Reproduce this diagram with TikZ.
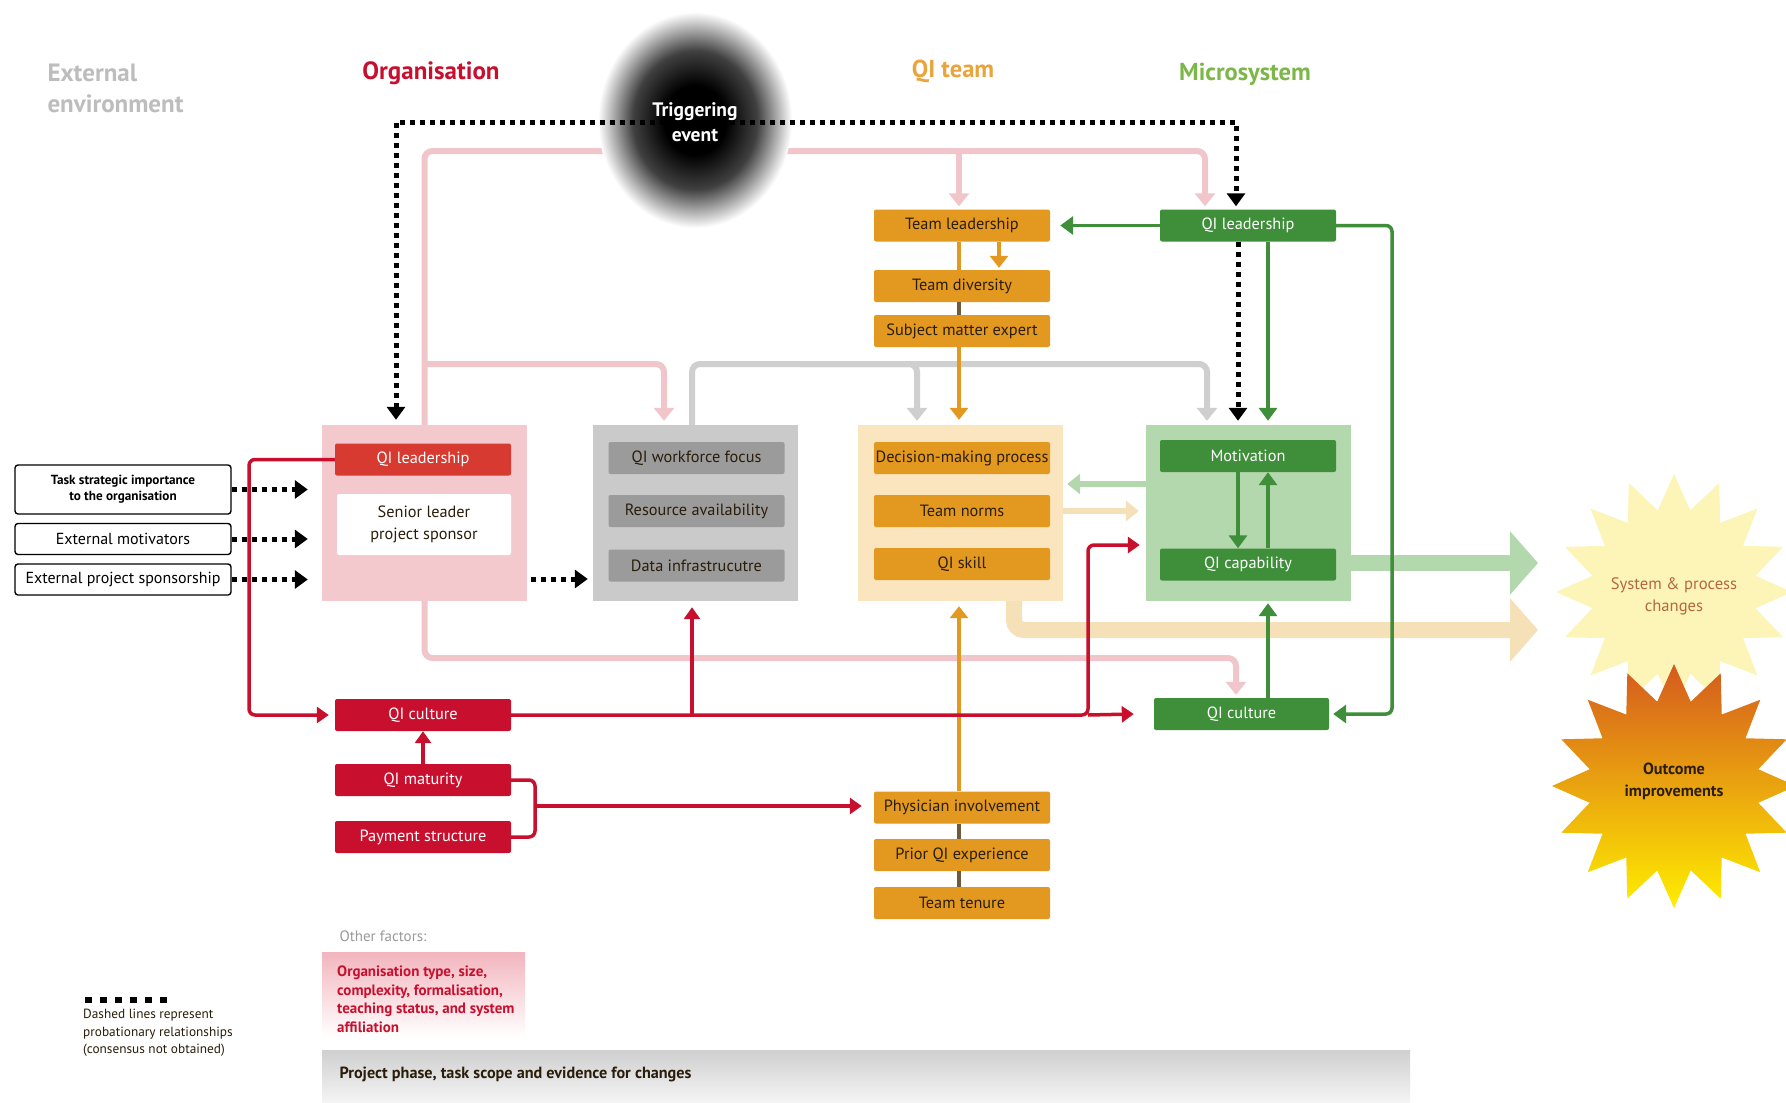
\documentclass[tikz,border=0pt]{standalone}
\usepackage{fontspec}
\setmainfont{PT Sans}
\usetikzlibrary{arrows.meta,shapes.geometric,calc}
\definecolor{qred}{HTML}{C8102E}
\definecolor{qredL}{HTML}{D63A30}
\definecolor{orgbg}{HTML}{F3C9CD}
\definecolor{pinkline}{HTML}{F0C6CB}
\definecolor{graybg}{HTML}{CACACA}
\definecolor{grayboxc}{HTML}{9B9B9B}
\definecolor{grayline}{HTML}{CFCFCF}
\definecolor{teambg}{HTML}{FAE5BF}
\definecolor{qorange}{HTML}{E3981F}
\definecolor{ortitle}{HTML}{EAA43C}
\definecolor{microbg}{HTML}{B4D8AE}
\definecolor{qgreen}{HTML}{3E8E3A}
\definecolor{gntitle}{HTML}{7DB74A}
\definecolor{lorange}{HTML}{F6E0B8}
\definecolor{star1}{HTML}{FDF5B8}
\definecolor{star1text}{HTML}{B5683C}
\definecolor{startop}{HTML}{D45A1E}
\definecolor{starmid}{HTML}{F0B408}
\definecolor{starbot}{HTML}{FFEE00}
\definecolor{qdark}{HTML}{2A1E0A}
\definecolor{titlegray}{HTML}{BDBDBD}
\definecolor{othgray}{HTML}{9A9A9A}
\definecolor{darkseg}{HTML}{6E5A3C}
\definecolor{pinkgrad}{HTML}{F2B5BE}
\definecolor{bargray}{HTML}{CFCFCF}
\newcommand{\fsz}[2]{\fontsize{#1}{#2}\selectfont}
\pgfdeclareradialshading{blob}{\pgfpoint{0bp}{0bp}}{color(0bp)=(black); color(8bp)=(black); color(16bp)=(black!75); color(25bp)=(white); color(50bp)=(white)}
\begin{document}
\begin{tikzpicture}[x=1pt,y=-1pt,
  box/.style={rounded corners=2pt, minimum width=176pt, minimum height=32pt, inner sep=0pt, font=\fsz{16.3}{19}, align=center},
  redbox/.style={box, fill=qred, text=white},
  orbox/.style={box, fill=qorange, text=qdark},
  gnbox/.style={box, fill=qgreen, text=white},
  gybox/.style={box, fill=grayboxc, text=qdark},
  cont/.style={minimum width=205pt, minimum height=176pt, inner sep=0pt},
  extbox/.style={draw=black, line width=1.4pt, rounded corners=3pt, minimum width=216pt, minimum height=31pt, inner sep=0pt, fill=white, font=\fsz{16}{19}, align=center},
  pinkA/.style={draw=pinkline, line width=6pt, rounded corners=8pt, -{Triangle[width=20pt,length=13pt]}},
  grayA/.style={draw=grayline, line width=6pt, rounded corners=8pt, -{Triangle[width=20pt,length=13pt]}},
  orA/.style={draw=qorange, line width=4pt, -{Triangle[width=18pt,length=12pt]}},
  gnA/.style={draw=qgreen, line width=3.5pt, rounded corners=6pt, -{Triangle[width=18pt,length=13pt]}},
  rdA/.style={draw=qred, line width=3.5pt, rounded corners=6pt, -{Triangle[width=16pt,length=12pt]}},
  rdL/.style={draw=qred, line width=3.5pt, rounded corners=6pt},
  lgA/.style={draw=microbg, line width=6pt, -{Triangle[width=20pt,length=13pt]}},
  loA/.style={draw=lorange, line width=6pt, -{Triangle[width=20pt,length=13pt]}},
  bigG/.style={draw=microbg, line width=16pt, -{Triangle[width=62pt,length=28pt]}},
  bigO/.style={draw=lorange, line width=16pt, rounded corners=10pt, -{Triangle[width=62pt,length=28pt]}},
  dashA/.style={draw=black, line width=5pt, dash pattern=on 5pt off 5pt, -{Triangle[width=18pt,length=13pt]}},
  dashB/.style={draw=black, line width=5pt, dash pattern=on 5pt off 5pt, {Triangle[width=18pt,length=13pt]}-{Triangle[width=18pt,length=13pt]}},
]
\useasboundingbox (0,0) rectangle (1786,1103);
\fill[white] (0,0) rectangle (1786,1103);

% titles
\node[anchor=west, font=\bfseries\fsz{25}{31}, text=titlegray, align=left] (ext) at (44,88) {External\\environment};
\node[font=\bfseries\fsz{25}{29}, text=qred] (torg) at (431,73) {Organisation};
\node[font=\bfseries\fsz{24.5}{29}, text=ortitle] (tteam) at (953,71) {QI team};
\node[font=\bfseries\fsz{24.5}{29}, text=gntitle] (tmic) at (1245,74) {Microsystem};

% containers
\node[cont, fill=orgbg] (org) at (424.5,513) {};
\node[cont, fill=graybg] (gray) at (695.5,513) {};
\node[cont, fill=teambg] (team) at (960.5,513) {};
\node[cont, fill=microbg] (micro) at (1248.5,513) {};

% organisation boxes
\node[redbox, fill=qredL] (oQL) at (423,459.5) {QI leadership};
\node[box, fill=white, text=qdark, minimum height=61pt, minimum width=174pt, font=\fsz{16.3}{22}] (sen) at (424,524.5) {Senior leader\\project sponsor};
\node[redbox] (oQC) at (423,715) {QI culture};
\node[redbox] (oQM) at (423,780) {QI maturity};
\node[redbox] (oPS) at (423,837) {Payment structure};

% gray boxes
\node[gybox] (wf) at (696.5,458) {QI workforce focus};
\node[gybox] (ra) at (696.5,511) {Resource availability};
\node[gybox] (di) at (696.5,565.5) {Data infrastrucutre};

% team boxes
\node[orbox] (dm) at (962,458) {Decision-making process};
\node[orbox] (tn) at (962,511) {Team norms};
\node[orbox] (qs) at (962,564) {QI skill};
\node[orbox] (tl) at (962,225.5) {Team leadership};
\node[orbox] (td) at (962,286) {Team diversity};
\node[orbox] (sme) at (962,331) {Subject matter expert};
\node[orbox] (phy) at (962,807.5) {Physician involvement};
\node[orbox] (pqe) at (962,855) {Prior QI experience};
\node[orbox] (tt) at (962,903) {Team tenure};

% micro boxes
\node[gnbox] (mot) at (1248,456) {Motivation};
\node[gnbox] (cap) at (1248,564.5) {QI capability};
\node[gnbox] (mQL) at (1248,225.5) {QI leadership};
\node[gnbox, minimum width=175pt] (mQC) at (1241.5,714) {QI culture};

% external boxes
\node[extbox, minimum height=49pt, font=\bfseries\fsz{13.2}{16}] (tsi) at (123,489.5) {Task strategic importance\\to the organisation};
\node[extbox] (em) at (123,539) {External motivators};
\node[extbox] (eps) at (123,579.5) {External project sponsorship};

% stars
\node[star, star points=16, star point ratio=1.42, minimum size=236pt, inner sep=0pt, fill=star1] (sys) at (1674,592) {};
\node[star, star points=16, star point ratio=1.42, minimum size=244pt, inner sep=0pt, top color=startop, middle color=starmid, bottom color=starbot] (outc) at (1674,786) {};
\node[font=\fsz{16.6}{22}, text=star1text, align=center] (sysT) at (1674,596) {System \& process\\changes};
\node[font=\bfseries\fsz{16.2}{22}, text=qdark, align=center] (outT) at (1674,781) {Outcome\\improvements};

\coordinate (sysin1) at (1538,563);
\coordinate (sysin2) at (1538,630);

% big arrows
\draw[bigG] ($(micro.east)+(0,50)$) -- (sysin1);
\draw[bigO] ($(team.south)+(53.5,0)$) |- (sysin2);

% pink lines
\draw[pinkA] (org.north) -- (424.5,151) -| ($(mQL.north)+(-43,-3)$);
\draw[pinkA] (959,151) -- ($(tl.north)+(-3,-3)$);
\draw[pinkA] (424.5,364) -| ($(gray.north)+(-31.5,-4)$);
\draw[pinkA] (org.south) |- (1000,658) -| ($(mQC.north)+(-5.5,-3)$);

% gray lines
\draw[grayA] ($(gray.south)+(-3.5,-176)$) |- (800,364) -| ($(team.north)+(-43.5,-4)$);
\draw[grayA] (800,364) -| ($(micro.north)+(-41.5,-4)$);

% blob
\shade[shading=blob] (695,120) ellipse [x radius=97pt, y radius=108pt];

% dashed black
\draw[dashB] ($(org.north)+(-28.5,-5)$) -- (396,122) -| ($(mQL.north)+(-12,-3)$);
\draw[dashA] ($(mQL.south)+(-10,0)$) -- ($(micro.north)+(-10.5,-4)$);
\draw[dashA] (tsi.east) -- ($(org.west |- tsi.east)+(-14,0)$);
\draw[dashA] (em.east) -- ($(org.west |- em.east)+(-14,0)$);
\draw[dashA] (eps.east) -- ($(org.west |- eps.east)+(-14,0)$);
\draw[dashA] ($(org.east)+(4,66)$) -- ($(gray.west)+(-5,66)$);

\node[font=\bfseries\fsz{19.5}{25}, text=white, align=center] (trig) at (695,122) {Triggering\\event};

% orange lines
\draw[draw=qorange, line width=4pt] ($(tl.south)+(-3,0)$) -- ($(td.north)+(-3,0)$);
\draw[draw=darkseg, line width=4pt] ($(td.south)+(-3,0)$) -- ($(sme.north)+(-3,0)$);
\draw[orA] ($(sme.south)+(-3,0)$) -- ($(team.north)+(-1.5,-5)$);
\draw[orA] ($(tl.south)+(37,0)$) -- ($(td.north)+(37,-2)$);
\draw[draw=darkseg, line width=4pt] ($(tt.north)+(-3,0)$) -- ($(pqe.south)+(-3,0)$);
\draw[draw=darkseg, line width=4pt] ($(pqe.north)+(-3,0)$) -- ($(phy.south)+(-3,0)$);
\draw[orA] ($(phy.north)+(-3,0)$) -- ($(team.south)+(-1.5,5)$);

% light arrows between team and micro
\draw[lgA] ($(micro.west)+(0,-29)$) -- ($(team.east)+(4,-29)$);
\draw[loA] ($(team.east)+(0,-2)$) -- ($(micro.west)+(-7,-2)$);

% red lines
\draw[rdA] (oQL.west) -- (249,459.5) |- ($(oQC.west)+(-6,0)$);
\draw[rdA] (oQC.east) -- (1088,715) |- ($(micro.west)+(-6,32)$);
\draw[rdA] (1088,715) -- ($(mQC.west)+(-20,0)$);
\draw[rdA] (692,715) -- ($(gray.south)+(-3.5,6)$);
\draw[rdA] (oQM.north) -- (oQC.south);
\draw[rdL] (oQM.east) -- (535,780) |- (oPS.east);
\draw[rdA] (535,806) -- ($(phy.west)+(-12,-1.5)$);

% green lines
\draw[gnA] (mQL.west) -- ($(tl.east)+(10,0)$);
\draw[gnA] ($(mQL.south)+(20,0)$) -- ($(micro.north)+(19.5,-4)$);
\draw[gnA] (mQL.east) -- (1392,225.5) |- ($(mQC.east)+(4,0)$);
\draw[gnA] ($(mQC.north)+(26.5,0)$) -- ($(micro.south)+(19.5,2)$);
\draw[gnA] ($(mot.south)+(-10,0)$) -- ($(cap.north)+(-10,0)$);
\draw[gnA] ($(cap.north)+(20,0)$) -- ($(mot.south)+(20,0)$);

% bottom
\node[anchor=west, text=othgray, font=\fsz{15}{18}] (oth) at (336,936) {Other factors:};
\node[minimum width=203pt, minimum height=85pt, inner sep=0pt, top color=pinkgrad, bottom color=white] (ofbox) at (423.5,994.5) {};
\node[anchor=north west, font=\bfseries\fsz{15}{18.5}, text=qred, align=left, inner sep=0pt] (oftext) at (337,966) {Organisation type, size,\\complexity, formalisation,\\teaching status, and system\\affiliation};
\node[minimum width=1088pt, minimum height=53pt, inner sep=0pt, top color=bargray, bottom color=white!96!black] (bar) at (866,1076.5) {};
\node[anchor=west, font=\bfseries\fsz{16.2}{19}, text=qdark] (bartext) at (336,1074) {Project phase, task scope and evidence for changes};

% legend
\draw[line width=6pt, dash pattern=on 7pt off 8pt] (85,1000) -- (171,1000);
\node[anchor=north west, align=left, inner sep=0pt, font=\fsz{13.3}{17.5}, text=qdark] (leg) at (83,1009) {Dashed lines represent\\probationary relationships\\(consensus not obtained)};
\end{tikzpicture}
\end{document}
